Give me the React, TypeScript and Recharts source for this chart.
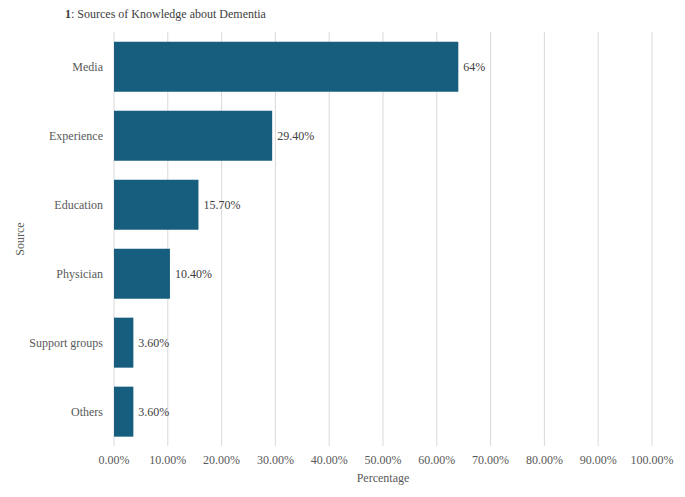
import React from "react";
import { BarChart, Bar, XAxis, YAxis, CartesianGrid, LabelList } from "recharts";

const categories = ["Media", "Experience", "Education", "Physician", "Support groups", "Others"];
const values = [64, 29.4, 15.7, 10.4, 3.6, 3.6];
const valueLabels = ["64%", "29.40%", "15.70%", "10.40%", "3.60%", "3.60%"];
const xTicks = [0, 10, 20, 30, 40, 50, 60, 70, 80, 90, 100];

const data = categories.map((c, i) => ({ name: c, value: values[i], label: valueLabels[i] }));

const FONT = "Liberation Serif";
const TEXT = "#595959";
const FS = 12;

export default function App() {
  return (
    <div style={{ position: "absolute", left: 0, top: 0, width: 685, height: 497, background: "#fff", fontFamily: FONT }}>
      <div style={{ position: "absolute", left: 65, top: 7, fontSize: FS, color: "#404040", fontFamily: FONT, whiteSpace: "nowrap" }}>
        <b>1</b>: Sources of Knowledge about Dementia
      </div>
      <BarChart
        width={685}
        height={497}
        data={data}
        layout="vertical"
        margin={{ top: 32, right: 33, bottom: 21, left: 14 }}
        barCategoryGap="14%"
        style={{ fontFamily: FONT }}
      >
        <CartesianGrid horizontal={false} vertical={true} stroke="#d9d9d9" />
        <XAxis
          type="number"
          domain={[0, 100]}
          ticks={xTicks}
          tickFormatter={(v: number) => v.toFixed(2) + "%"}
          axisLine={false}
          tickLine={false}
          tickSize={0}
          tickMargin={9}
          height={30}
          interval={0}
          tick={{ fill: TEXT, fontSize: FS, fontFamily: FONT }}
          label={{ value: "Percentage", position: "insideBottom", offset: -6, fill: TEXT, fontSize: FS, fontFamily: FONT }}
        />
        <YAxis
          type="category"
          dataKey="name"
          width={100}
          axisLine={false}
          tickLine={false}
          tickSize={0}
          tickMargin={11}
          interval={0}
          tick={{ fill: TEXT, fontSize: FS, fontFamily: FONT }}
          label={{ value: "Source", angle: -90, position: "insideLeft", offset: 0, dx: 6, fill: TEXT, fontSize: FS, fontFamily: FONT, style: { textAnchor: "middle" } }}
        />
        <Bar dataKey="value" fill="#175e7e" isAnimationActive={false}>
          <LabelList dataKey="label" position="right" offset={5} fill="#404040" fontSize={FS} fontFamily={FONT} />
        </Bar>
      </BarChart>
    </div>
  );
}
